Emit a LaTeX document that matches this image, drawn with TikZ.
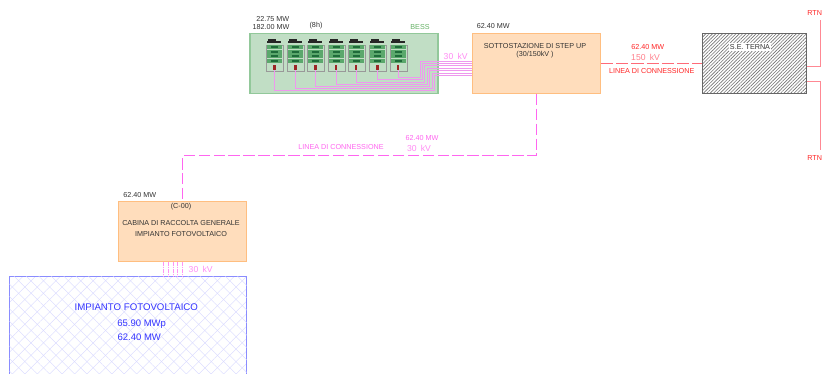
\documentclass[tikz,border=0pt]{standalone}
\usepackage{fontspec}
\setmainfont{Liberation Sans}
\usetikzlibrary{patterns.meta}
\definecolor{bessfill}{HTML}{C1DEC5}
\definecolor{bessdraw}{HTML}{92C89A}
\definecolor{boxfill}{HTML}{FFDDBC}
\definecolor{boxdraw}{HTML}{FFBE80}
\definecolor{mvpink}{HTML}{FF66F0}
\definecolor{wirepink}{HTML}{EE98EE}
\definecolor{hvred}{HTML}{FF6A78}
\definecolor{pvblue}{HTML}{8A8CFF}
\definecolor{rackrow}{HTML}{5BA86C}
\definecolor{rackdark}{HTML}{1F6B3A}
\begin{document}
\begin{tikzpicture}[
  x=0.02cm,
  y=-0.02cm,
  every node/.style={inner sep=0pt},
  txt/.style={font=\fontsize{4.1}{5}\selectfont, text=black!80},
  pinktxt/.style={txt, text=mvpink},
  redtxt/.style={txt, text=red!85!white},
  voltpink/.style={font=\fontsize{4.9}{5}\selectfont, text=mvpink!75},
  voltred/.style={font=\fontsize{4.9}{5}\selectfont, text=hvred!85},
  pvtitle/.style={font=\fontsize{5.5}{6}\selectfont, text=blue!80!white},
  pvdata/.style={font=\fontsize{5.4}{6}\selectfont, text=blue!80!white},
  station/.style={
    draw=boxdraw,
    fill=boxfill,
    line width=0.5pt,
    minimum width=2.56cm,
    minimum height=1.2cm
  },
  bessbox/.style={
    draw=bessdraw,
    fill=bessfill,
    line width=0.6pt,
    minimum width=3.76cm,
    minimum height=1.2cm
  },
  ternabox/.style={
    draw=black!60,
    line width=0.6pt,
    minimum width=2.09cm,
    minimum height=1.2cm,
    pattern={Lines[angle=45,distance=1.35pt,line width=0.35pt]},
    pattern color=black!55
  },
  pvbox/.style={
    draw=pvblue,
    line width=0.5pt,
    minimum width=4.75cm,
    minimum height=2.5cm,
    pattern={Lines[angle=45,distance=5pt,line width=0.2pt]},
    pattern color=pvblue!35,
    postaction={pattern={Lines[angle=-45,distance=5pt,line width=0.2pt]},pattern color=pvblue!35}
  },
  rackframe/.style={
    draw=black!40,
    line width=0.3pt,
    fill=bessfill,
    minimum width=0.34cm,
    minimum height=0.52cm,
    anchor=north west
  },
  rackmark/.style={
    fill=red!55!black!85,
    minimum width=0.05cm,
    minimum height=0.1cm
  },
  mvline/.style={draw=mvpink, line width=0.5pt, dash pattern=on 6.5pt off 2pt},
  hvline/.style={draw=hvred, line width=0.5pt, dash pattern=on 7pt off 1.7pt},
  rtnline/.style={draw=hvred!80, line width=0.5pt},
  mvwire/.style={draw=wirepink, line width=0.55pt},
  pvwire/.style={draw=mvpink!70, line width=0.4pt, dash pattern=on 1pt off 0.3pt}
]
\clip (0,0) rectangle (822,374);
\fill[white] (0,0) rectangle (822,374);

% ---------------------------------------------------------------------------
% Boxes
% ---------------------------------------------------------------------------
\node[bessbox] (bess) at (344,63.3) {};
\node[station] (stepup) at (536.3,63.3) {};
\node[ternabox] (terna) at (754.5,63.3) {};
\node[station] (cabina) at (182.5,231.7) {};
\node[pvbox, anchor=north west] (pv) at (9.3,276) {};

% ---------------------------------------------------------------------------
% BESS racks and their wires
% ---------------------------------------------------------------------------
\foreach \n/\rx/\wy/\vx/\iy in {
  1/266/90.5/434.5/75.5,
  2/287/88.5/432.5/73.5,
  3/307.3/86.5/429.5/70.5,
  4/327.7/84.5/427.5/68.5,
  5/347.7/82.5/424.5/65.5,
  6/369.3/79.5/422.5/63.5,
  7/389.7/77.5/420.5/61.5}{
  \fill[black!85] (\rx+2,39) rectangle (\rx+10,41);
  \fill[black!85] (\rx+1,41) rectangle (\rx+15,43.5);
  \node[rackframe] (rack\n) at (\rx,45) {};
  \foreach \ry in {45.5,50,54.5,59}{
    \fill[rackrow] (\rx+1,\ry) rectangle (\rx+16,\ry+3.6);
    \fill[rackdark] (\rx+5,\ry+1) rectangle (\rx+12,\ry+2.6);
  }
  \node[rackmark] (mark\n) at (\rx+8.3,67.5) {};
  \draw[mvwire] (mark\n.south) |- (\vx,\wy) |- (stepup.west |- 0,\iy);
}

% ---------------------------------------------------------------------------
% Connections
% ---------------------------------------------------------------------------
\draw[hvline] (stepup.east) -- (terna.west);
\draw[mvline] (stepup.south) -- ++(0,62) -| (cabina.north);
\foreach \x in {163.7,168.3,173,177.7,182.3}{
  \draw[pvwire] (\x,0 |- cabina.south) -- (\x,0 |- pv.north);
}
\coordinate (rtntop) at (terna.east |- 0,66.3);
\coordinate (rtnbottom) at (terna.east |- 0,81);
\draw[rtnline] (rtntop) -- ++(13,0) -- ++(0,-46);
\draw[rtnline] (rtnbottom) -- ++(13,0) -- ++(0,69);

% ---------------------------------------------------------------------------
% Labels
% ---------------------------------------------------------------------------
\node[txt] (bessa) at (272.7,19) {22.75 MW};
\node[txt] (bessb) at (271,27) {182.00 MW};
\node[txt] (bessh) at (316,26) {(8h)};
\node[txt, text=green!50!black!60] (bessname) at (420,27) {BESS};
\node[voltpink] (bessv) at (455.7,56.7) {30\,\,\,kV};

\node[txt] (stepmw) at (493.3,26) {62.40 MW};
\node[txt] (stepa) at (535,46) {SOTTOSTAZIONE DI STEP UP};
\node[txt] (stepb) at (535,54.7) {(30/150kV )};

\node[redtxt] (hvmw) at (647.7,47) {62.40 MW};
\node[voltred] (hvv) at (645.6,57) {150\,\,\,kV};
\node[redtxt] (hvname) at (651.7,71) {LINEA DI CONNESSIONE};
\node[txt, fill=white, inner sep=0.6pt] (ternaname) at (750,47) {S.E. TERNA};
\node[redtxt] (rtna) at (814.7,13) {RTN};
\node[redtxt] (rtnb) at (814.7,157.7) {RTN};

\node[pinktxt] (mvname) at (341,147) {LINEA DI CONNESSIONE};
\node[pinktxt] (mvmw) at (422,138) {62.40 MW};
\node[voltpink] (mvv) at (419,148) {30\,\,\,kV};

\node[txt] (cabmw) at (139.7,194.7) {62.40 MW};
\node[txt] (caba) at (181,207) {(C-00)};
\node[txt] (cabb) at (181,223.5) {CABINA DI RACCOLTA GENERALE};
\node[txt] (cabc) at (181,234.5) {IMPIANTO FOTOVOLTAICO};
\node[voltpink] (pvv) at (200.7,269) {30\,\,\,kV};

\node[pvtitle] (pvname) at (136.3,306.7) {IMPIANTO FOTOVOLTAICO};
\node[pvdata] (pvmwp) at (141.7,324) {65.90 MWp};
\node[pvdata] (pvmw) at (139.3,337) {62.40 MW};

\end{tikzpicture}
\end{document}
